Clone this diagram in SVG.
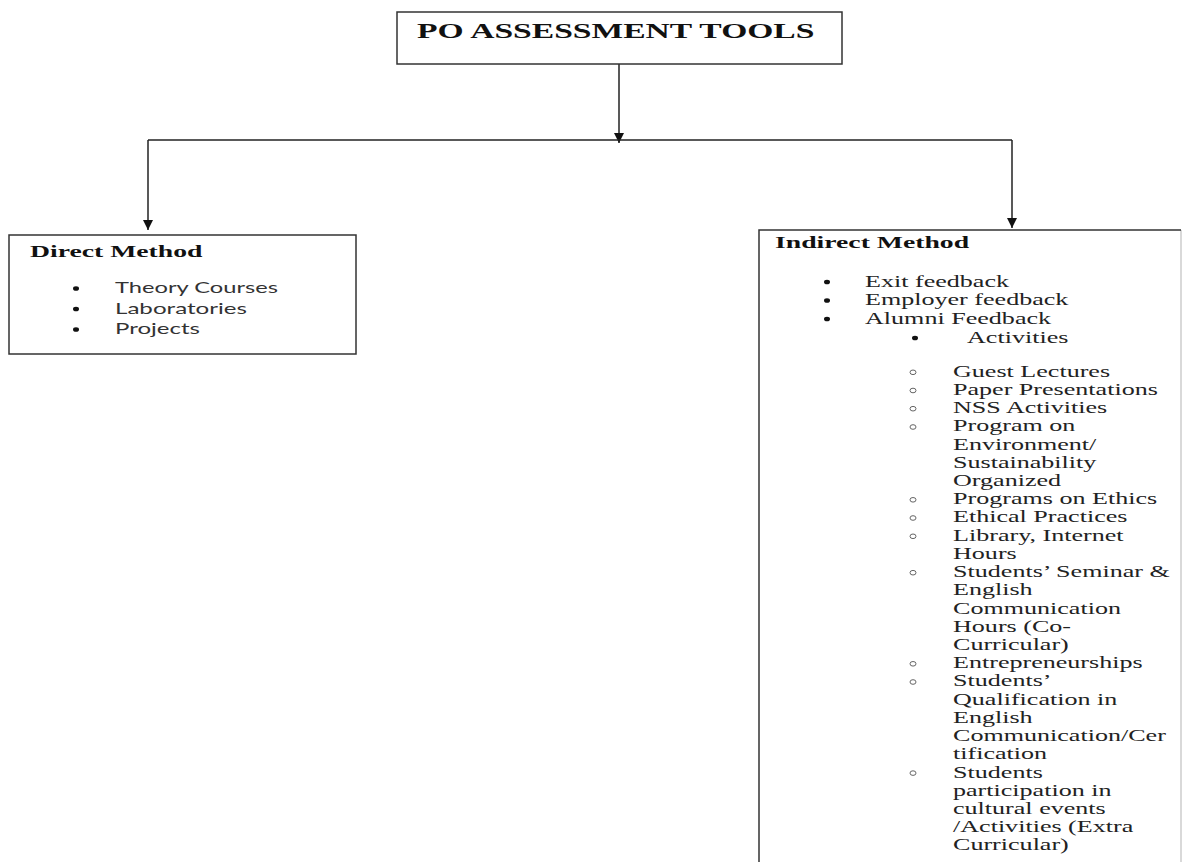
<svg xmlns="http://www.w3.org/2000/svg" width="1182" height="862" viewBox="0 0 1182 862">
<style>
.box{fill:#fff;stroke:#333;stroke-width:1.5}
.edge{fill:none;stroke:#333;stroke-width:1.5}
.faint{fill:none;stroke:#ccc;stroke-width:1.5}
.conn{fill:none;stroke:#222;stroke-width:1.5}
.sb{font-family:"Liberation Serif","Times New Roman",serif;font-weight:bold;fill:#111}
.sr{font-family:"Liberation Serif","Times New Roman",serif;font-size:16px;fill:#222}
.ss{font-family:Lato,"Liberation Sans",sans-serif;font-size:15px;fill:#333}
.dot{fill:#111}
.ring{fill:none;stroke:#666;stroke-width:1}
</style>
<defs>
<marker id="ahd" markerUnits="userSpaceOnUse" markerWidth="10" markerHeight="10" viewBox="0 0 10 10" refX="10" refY="5" orient="auto">
<path d="M0,0 L10,5 L0,10 Z" fill="#111"/>
</marker>
</defs>
<rect width="1182" height="862" fill="#fff"/>
<g id="connectors">
<path class="conn" d="M619 64 V143" marker-end="url(#ahd)"/>
<path class="conn" d="M148 140 H1012"/>
<path class="conn" d="M148 140 V230" marker-end="url(#ahd)"/>
<path class="conn" d="M1012 140 V228" marker-end="url(#ahd)"/>
</g>
<g id="title">
<rect class="box" x="397" y="12" width="445" height="52"/>
<text class="sb" font-size="20" transform="translate(417,38) scale(1.68,1)">PO ASSESSMENT TOOLS</text>
</g>
<g id="direct">
<rect class="box" x="9" y="235" width="347" height="119"/>
<text class="sb" font-size="17" transform="translate(30,257) scale(1.63,1)">Direct Method</text>
<ellipse class="dot" cx="76" cy="288.5" rx="3" ry="2.3"/>
<ellipse class="dot" cx="76" cy="309" rx="3" ry="2.3"/>
<ellipse class="dot" cx="76" cy="329.5" rx="3" ry="2.3"/>
<text class="ss" x="115" y="293" textLength="163" lengthAdjust="spacingAndGlyphs">Theory Courses</text>
<text class="ss" x="115" y="313.5" textLength="132" lengthAdjust="spacingAndGlyphs">Laboratories</text>
<text class="ss" x="115" y="334" textLength="85" lengthAdjust="spacingAndGlyphs">Projects</text>
</g>
<g id="indirect">
<rect x="759" y="230" width="422" height="640" fill="#fff"/>
<path class="faint" d="M1181 230 V862"/>
<path class="edge" d="M759 870 V230 H1181"/>
<text class="sb" font-size="17" transform="translate(775,248) scale(1.63,1)">Indirect Method</text>
<ellipse class="dot" cx="827" cy="282" rx="3" ry="2.3"/>
<ellipse class="dot" cx="827" cy="300.5" rx="3" ry="2.3"/>
<ellipse class="dot" cx="827" cy="319" rx="3" ry="2.3"/>
<ellipse class="dot" cx="915" cy="338" rx="3" ry="2.3"/>
<text class="sr" transform="translate(865,286.5) scale(1.63,1)">Exit feedback</text>
<text class="sr" transform="translate(865,305) scale(1.63,1)">Employer feedback</text>
<text class="sr" transform="translate(865,323.5) scale(1.63,1)">Alumni Feedback</text>
<text class="sr" transform="translate(967,342.5) scale(1.63,1)">Activities</text>
<g class="rings">
<ellipse class="ring" cx="913" cy="372.3" rx="3" ry="2.3"/>
<ellipse class="ring" cx="913" cy="390.5" rx="3" ry="2.3"/>
<ellipse class="ring" cx="913" cy="408.7" rx="3" ry="2.3"/>
<ellipse class="ring" cx="913" cy="427" rx="3" ry="2.3"/>
<ellipse class="ring" cx="913" cy="499.8" rx="3" ry="2.3"/>
<ellipse class="ring" cx="913" cy="518" rx="3" ry="2.3"/>
<ellipse class="ring" cx="913" cy="536.3" rx="3" ry="2.3"/>
<ellipse class="ring" cx="913" cy="572.7" rx="3" ry="2.3"/>
<ellipse class="ring" cx="913" cy="663.8" rx="3" ry="2.3"/>
<ellipse class="ring" cx="913" cy="682" rx="3" ry="2.3"/>
<ellipse class="ring" cx="913" cy="773.1" rx="3" ry="2.3"/>
</g>
<g transform="translate(953,0) scale(1.63,1)">
<text class="sr" x="0" y="376.8">Guest Lectures</text>
<text class="sr" x="0" y="395">Paper Presentations</text>
<text class="sr" x="0" y="413.2">NSS Activities</text>
<text class="sr" x="0" y="431.5">Program on</text>
<text class="sr" x="0" y="449.7">Environment/</text>
<text class="sr" x="0" y="467.9">Sustainability</text>
<text class="sr" x="0" y="486.1">Organized</text>
<text class="sr" x="0" y="504.3">Programs on Ethics</text>
<text class="sr" x="0" y="522.5">Ethical Practices</text>
<text class="sr" x="0" y="540.8">Library, Internet</text>
<text class="sr" x="0" y="559">Hours</text>
<text class="sr" x="0" y="577.2">Students’ Seminar &amp;</text>
<text class="sr" x="0" y="595.4">English</text>
<text class="sr" x="0" y="613.6">Communication</text>
<text class="sr" x="0" y="631.9">Hours (Co-</text>
<text class="sr" x="0" y="650.1">Curricular)</text>
<text class="sr" x="0" y="668.3">Entrepreneurships</text>
<text class="sr" x="0" y="686.5">Students’</text>
<text class="sr" x="0" y="704.7">Qualification in</text>
<text class="sr" x="0" y="723">English</text>
<text class="sr" x="0" y="741.2">Communication/Cer</text>
<text class="sr" x="0" y="759.4">tification</text>
<text class="sr" x="0" y="777.6">Students</text>
<text class="sr" x="0" y="795.8">participation in</text>
<text class="sr" x="0" y="814.1">cultural events</text>
<text class="sr" x="0" y="832.3">/Activities (Extra</text>
<text class="sr" x="0" y="850.5">Curricular)</text>
</g>
</g>
</svg>
